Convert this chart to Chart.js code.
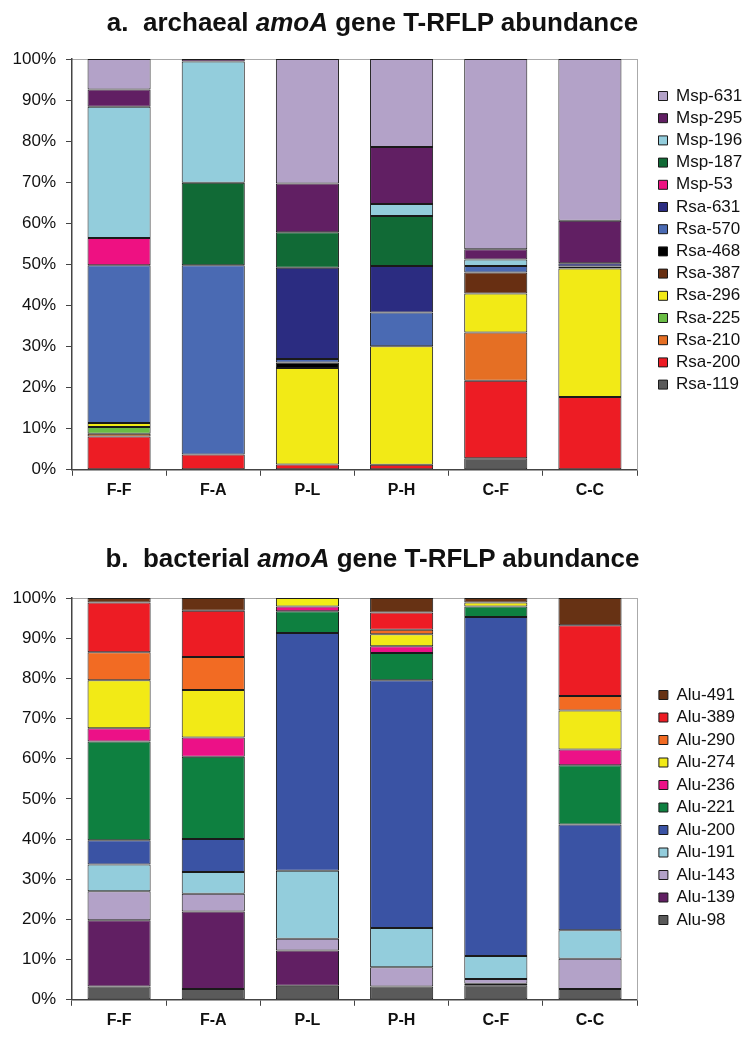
<!DOCTYPE html>
<html>
<head>
<meta charset="utf-8">
<script src="https://cdn.jsdelivr.net/npm/chart.js@4"></script>
<style>
  body { margin: 0; background: #fff; font-family: "Liberation Sans", Arial, sans-serif; }
  .wrap { position: relative; width: 745px; height: 1038px; overflow: hidden; }
  .titulo { position: absolute; left: 0; width: 745px; text-align: center; font-size: 26px; line-height: 30px; font-weight: bold; color: #111; }
  canvas { position: absolute; left: 0; }
</style>
</head>
<body>
<div class="wrap">
  <canvas id="graficoA" width="745" height="510" style="top:0"></canvas>
  <canvas id="graficoB" width="745" height="528" style="top:510px"></canvas>
  <div class="titulo" style="top:7px">a.&nbsp; archaeal <i>amoA</i> gene T-RFLP abundance</div>
  <div class="titulo" style="top:543px">b.&nbsp; bacterial <i>amoA</i> gene T-RFLP abundance</div>
</div>
<script>
// categorias (amostras)
const categorias = ["F-F", "F-A", "P-L", "P-H", "C-F", "C-C"];
const ticksY = [0, 10, 20, 30, 40, 50, 60, 70, 80, 90, 100];

// a. archaea - de baixo para cima
const rsa119 = [0, 0, 0, 0, 2.8, 0];
const rsa200 = [8.1, 3.7, 1.3, 1.2, 18.9, 17.7];
const rsa210 = [0.7, 0, 0, 0, 11.7, 0];
const rsa225 = [1.6, 0, 0, 0, 0, 0];
const rsa296 = [1.0, 0, 23.5, 28.9, 9.5, 31.3];
const rsa387 = [0, 0, 0, 0, 5.1, 0];
const rsa468 = [0, 0, 1.3, 0, 0, 0.5];
const rsa570 = [38.4, 46.1, 0.9, 8.2, 1.6, 0];
const rsa631 = [0, 0, 22.2, 11.3, 0, 0.8];
const msp53 = [6.6, 0, 0, 0, 0, 0];
const msp187 = [0, 20.1, 8.6, 12.2, 0, 0];
const msp196 = [32.0, 29.5, 0, 2.9, 1.6, 0];
const msp295 = [4.2, 0.6, 11.9, 13.9, 2.5, 10.3];
const msp631 = [7.4, 0, 30.3, 21.4, 46.3, 39.4];

// b. bacteria - de baixo para cima
const alu98 = [3.3, 2.7, 3.5, 3.3, 3.6, 2.7];
const alu139 = [16.5, 19.3, 8.8, 0, 0.4, 0];
const alu143 = [7.2, 4.4, 2.9, 4.8, 1.2, 7.5];
const alu191 = [6.7, 5.4, 16.9, 9.8, 5.7, 7.1];
const alu200 = [6.0, 8.2, 59.2, 61.6, 84.4, 26.3];
const alu221 = [24.6, 20.5, 5.4, 6.8, 2.6, 14.8];
const alu236 = [3.3, 4.8, 1.2, 1.7, 0, 3.9];
const alu274 = [11.9, 11.8, 2.1, 3.0, 1.0, 9.7];
const alu290 = [7.0, 8.2, 0, 1.1, 0, 3.6];
const alu389 = [12.4, 11.5, 0, 4.3, 0, 17.6];
const alu491 = [1.1, 3.2, 0, 3.6, 1.1, 6.8];

const seriesA = [
  ["Rsa-119", rsa119, "#5a5a5a"],
  ["Rsa-200", rsa200, "#ed1c24"],
  ["Rsa-210", rsa210, "#e56f24"],
  ["Rsa-225", rsa225, "#6abd45"],
  ["Rsa-296", rsa296, "#f2ea16"],
  ["Rsa-387", rsa387, "#682f12"],
  ["Rsa-468", rsa468, "#000000"],
  ["Rsa-570", rsa570, "#4a6ab3"],
  ["Rsa-631", rsa631, "#2b2c81"],
  ["Msp-53", msp53, "#ee1182"],
  ["Msp-187", msp187, "#116a36"],
  ["Msp-196", msp196, "#93cddc"],
  ["Msp-295", msp295, "#611f63"],
  ["Msp-631", msp631, "#b3a2c8"],
];

const seriesB = [
  ["Alu-98", alu98, "#5a5a5a"],
  ["Alu-139", alu139, "#611f63"],
  ["Alu-143", alu143, "#b3a2c8"],
  ["Alu-191", alu191, "#93cddc"],
  ["Alu-200", alu200, "#3a53a4"],
  ["Alu-221", alu221, "#0e8040"],
  ["Alu-236", alu236, "#ec1187"],
  ["Alu-274", alu274, "#f2ea16"],
  ["Alu-290", alu290, "#f26b23"],
  ["Alu-389", alu389, "#ed1c24"],
  ["Alu-491", alu491, "#673214"],
];

function montaDatasets(series) {
  return series.map(([nome, valores, cor]) => ({
    label: nome,
    data: valores.map(v => (v > 0 ? v : null)),
    backgroundColor: cor,
    borderColor: "#1a1a1a",
    borderWidth: 1,
    borderSkipped: false,
    categoryPercentage: 1,
    barPercentage: 0.67,
  }));
}

function config(series, padTopo, padBaixo, legendaTopo, legendaPad) {
  return {
    type: "bar",
    data: { labels: categorias, datasets: montaDatasets(series) },
    options: {
      responsive: false,
      animation: false,
      layout: { padding: { top: padTopo, bottom: padBaixo, left: 0, right: 0 } },
      plugins: {
        tooltip: { enabled: false },
        legend: {
          position: "right",
          align: "start",
          reverse: true,
          maxWidth: 91.7,
          title: { display: true, text: " ", font: { size: 12 }, padding: { top: legendaTopo, bottom: 0 } },
          labels: {
            boxWidth: 9,
            boxHeight: 9,
            padding: legendaPad,
            color: "#111",
            font: { family: "'Liberation Sans', Arial", size: 17 },
          },
        },
      },
      scales: {
        x: {
          stacked: true,
          grid: { offset: true, drawOnChartArea: false, tickLength: 6, color: "#444" },
          border: { color: "#444", width: 1.5 },
          ticks: { color: "#111", padding: 5, font: { family: "'Liberation Sans', Arial", size: 16, weight: "bold" } },
        },
        x2: {
          position: "top",
          grid: { display: false },
          ticks: { display: false },
          border: { color: "#aaa", width: 1 },
          afterFit: (s) => { s.height = 0; },
        },
        y: {
          stacked: true,
          min: 0,
          max: 100,
          afterBuildTicks: (s) => { s.ticks = ticksY.map(v => ({ value: v })); },
          afterFit: (s) => { s.width = 72; },
          grid: { drawOnChartArea: false, tickLength: 6, color: "#444" },
          border: { color: "#444", width: 1.5 },
          ticks: {
            color: "#111",
            padding: 10,
            font: { family: "'Liberation Sans', Arial", size: 17 },
            callback: (v) => v + "%",
          },
        },
        y2: {
          position: "right",
          grid: { display: false },
          ticks: { display: false },
          border: { color: "#aaa", width: 1 },
          afterFit: (s) => { s.width = 16.3; },
        },
      },
    },
  };
}

new Chart(document.getElementById("graficoA").getContext("2d"), config(seriesA, 59, 5, 8.9, 5.2));
new Chart(document.getElementById("graficoB").getContext("2d"), config(seriesB, 88, 3, 68.6, 5.5));
</script>
</body>
</html>
